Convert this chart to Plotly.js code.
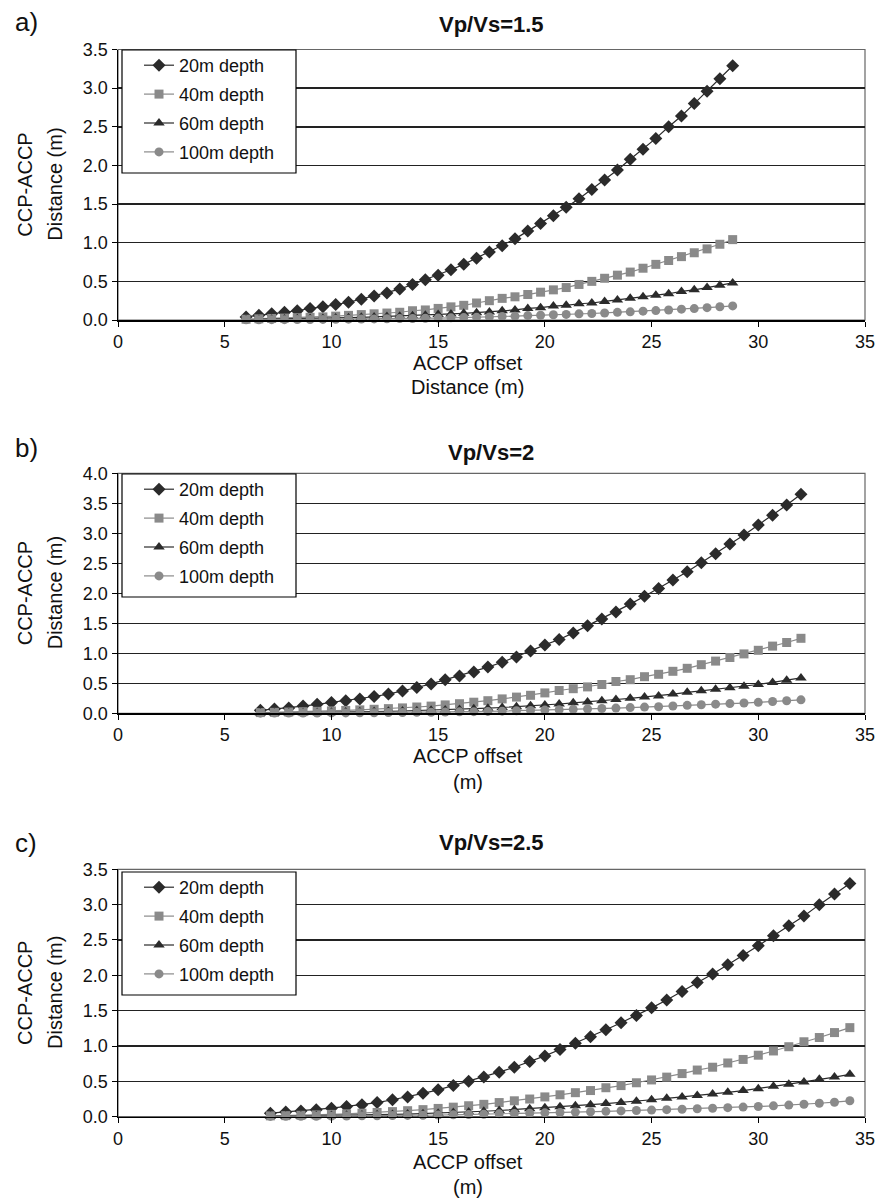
<!DOCTYPE html>
<html>
<head>
<meta charset="utf-8">
<script src="https://cdn.plot.ly/plotly-3.0.1.min.js"></script>
<style>html,body{margin:0;padding:0;background:#fff;}#chart{width:875px;height:1202px;}</style>
</head>
<body>
<div id="chart"></div>
<script>
// ACCP offset (m) for each panel
const xA = [6.0,6.6,7.2,7.8,8.4,9.0,9.6,10.2,10.8,11.4,12.0,12.6,13.2,13.8,14.4,15.0,15.6,16.2,16.8,17.4,18.0,18.6,19.2,19.8,20.4,21.0,21.6,22.2,22.8,23.4,24.0,24.6,25.2,25.8,26.4,27.0,27.6,28.2,28.8];
const xB = [6.67,7.33,8.0,8.67,9.33,10.0,10.67,11.33,12.0,12.67,13.33,14.0,14.67,15.33,16.0,16.67,17.33,18.0,18.67,19.33,20.0,20.67,21.33,22.0,22.67,23.33,24.0,24.67,25.33,26.0,26.67,27.33,28.0,28.67,29.33,30.0,30.67,31.33,32.0];
const xC = [7.14,7.86,8.57,9.29,10.0,10.71,11.43,12.14,12.86,13.57,14.29,15.0,15.71,16.43,17.14,17.86,18.57,19.29,20.0,20.71,21.43,22.14,22.86,23.57,24.29,25.0,25.71,26.43,27.14,27.86,28.57,29.29,30.0,30.71,31.43,32.14,32.86,33.57,34.29];

// Panel a) Vp/Vs=1.5
const a20 = [0.04,0.06,0.08,0.10,0.12,0.15,0.17,0.20,0.23,0.27,0.31,0.35,0.40,0.46,0.52,0.58,0.65,0.72,0.80,0.88,0.96,1.05,1.15,1.25,1.35,1.46,1.57,1.69,1.81,1.94,2.08,2.21,2.35,2.50,2.64,2.80,2.96,3.12,3.29];
const a40 = [0.01,0.015,0.02,0.025,0.03,0.035,0.04,0.05,0.06,0.07,0.08,0.09,0.10,0.12,0.13,0.15,0.17,0.19,0.22,0.25,0.28,0.30,0.33,0.36,0.39,0.42,0.46,0.50,0.54,0.58,0.62,0.67,0.72,0.77,0.82,0.87,0.92,0.98,1.04];
const a60 = [0.005,0.007,0.01,0.012,0.015,0.018,0.021,0.025,0.03,0.035,0.04,0.045,0.05,0.056,0.063,0.07,0.078,0.086,0.095,0.105,0.12,0.13,0.15,0.16,0.18,0.19,0.21,0.22,0.24,0.26,0.28,0.30,0.32,0.34,0.37,0.39,0.42,0.45,0.48];
const a100 = [0.002,0.003,0.004,0.004,0.005,0.006,0.008,0.009,0.011,0.013,0.014,0.016,0.018,0.02,0.023,0.025,0.028,0.031,0.034,0.04,0.046,0.05,0.057,0.061,0.068,0.072,0.08,0.084,0.091,0.099,0.106,0.114,0.122,0.129,0.14,0.148,0.16,0.171,0.182];

// Panel b) Vp/Vs=2
const b20 = [0.05,0.07,0.09,0.12,0.15,0.18,0.21,0.24,0.28,0.32,0.37,0.43,0.49,0.56,0.62,0.69,0.77,0.85,0.94,1.04,1.14,1.23,1.34,1.46,1.57,1.69,1.82,1.95,2.08,2.22,2.36,2.51,2.66,2.82,2.97,3.14,3.30,3.47,3.65];
const b40 = [0.012,0.016,0.021,0.027,0.033,0.04,0.048,0.057,0.067,0.078,0.09,0.105,0.12,0.14,0.16,0.185,0.21,0.24,0.27,0.30,0.34,0.38,0.41,0.44,0.48,0.53,0.56,0.61,0.65,0.70,0.75,0.81,0.87,0.93,0.99,1.05,1.12,1.18,1.25];
const b60 = [0.005,0.007,0.009,0.011,0.014,0.017,0.02,0.024,0.028,0.033,0.038,0.044,0.05,0.057,0.065,0.074,0.085,0.097,0.11,0.125,0.14,0.155,0.175,0.19,0.21,0.23,0.25,0.27,0.29,0.32,0.35,0.375,0.40,0.425,0.45,0.48,0.515,0.55,0.59];
const b100 = [0.002,0.003,0.003,0.004,0.005,0.006,0.007,0.009,0.01,0.012,0.014,0.016,0.018,0.021,0.024,0.027,0.031,0.036,0.042,0.048,0.053,0.059,0.066,0.072,0.08,0.087,0.095,0.103,0.11,0.122,0.133,0.143,0.152,0.162,0.171,0.183,0.196,0.209,0.224];

// Panel c) Vp/Vs=2.5
const c20 = [0.05,0.065,0.08,0.1,0.12,0.145,0.17,0.2,0.24,0.28,0.33,0.38,0.44,0.5,0.56,0.63,0.70,0.78,0.86,0.95,1.04,1.13,1.23,1.33,1.43,1.54,1.65,1.77,1.90,2.02,2.15,2.28,2.42,2.56,2.70,2.84,3.00,3.15,3.30];
const c40 = [0.012,0.015,0.02,0.026,0.033,0.041,0.05,0.06,0.072,0.085,0.1,0.117,0.135,0.155,0.175,0.20,0.225,0.25,0.28,0.31,0.34,0.37,0.41,0.44,0.48,0.52,0.56,0.61,0.66,0.70,0.76,0.81,0.87,0.93,0.99,1.06,1.12,1.19,1.26];
const c60 = [0.006,0.008,0.01,0.013,0.016,0.019,0.023,0.027,0.032,0.037,0.043,0.05,0.058,0.067,0.077,0.088,0.1,0.112,0.125,0.14,0.155,0.17,0.185,0.20,0.22,0.24,0.26,0.28,0.30,0.32,0.345,0.37,0.395,0.43,0.46,0.49,0.53,0.56,0.60];
const c100 = [0.004,0.005,0.006,0.007,0.008,0.01,0.012,0.014,0.016,0.018,0.021,0.024,0.027,0.031,0.035,0.04,0.045,0.05,0.055,0.06,0.065,0.07,0.076,0.082,0.088,0.094,0.1,0.106,0.113,0.12,0.128,0.136,0.145,0.154,0.164,0.176,0.19,0.205,0.225];

const seriesNames = ["20m depth","40m depth","60m depth","100m depth"];
const panelTitles = ["Vp/Vs=1.5","Vp/Vs=2","Vp/Vs=2.5"];
const panelLabels = ["a)","b)","c)"];
const xTitleLine2 = ["Distance (m)","(m)","(m)"];
const yMax = [3.5,4.0,3.5];
const xTicks = [0,5,10,15,20,25,30,35];

const FONT = "Liberation Sans, Arial, Helvetica, sans-serif";
const DARK = "#2b2b2b", GRAY = "#8a8a8a";
const styles = [
  {color: DARK, symbol: "diamond", size: 10},
  {color: GRAY, symbol: "square", size: 9},
  {color: DARK, symbol: "triangle-up", size: 10},
  {color: GRAY, symbol: "circle", size: 9}
];

const panels = [
  {x: xA, ys: [a20,a40,a60,a100]},
  {x: xB, ys: [b20,b40,b60,b100]},
  {x: xC, ys: [c20,c40,c60,c100]}
];

// pixel layout of the plot areas and legend boxes
const W = 875, H = 1202;
const px = {l: 118, r: 865};
const py = [{t: 49.5, b: 320}, {t: 473.3, b: 713.3}, {t: 869.3, b: 1116.7}];
const legBox = [{t: 50, b: 173}, {t: 474, b: 597}, {t: 872, b: 995}];
const xTitleOff = [[43, 67], [43, 69], [45, 70]];

const traces = [];
const layout = {
  width: W, height: H,
  margin: {l: 0, r: 0, t: 0, b: 0},
  paper_bgcolor: "#fff", plot_bgcolor: "#fff",
  font: {family: FONT, color: "#111", size: 17},
  showlegend: true,
  annotations: [], shapes: []
};

panels.forEach((p, i) => {
  const k = i === 0 ? "" : String(i + 1);
  const xa = "x" + k, ya = "y" + k;
  const leg = "legend" + k;
  p.ys.forEach((y, j) => {
    traces.push({
      type: "scatter", mode: "lines+markers",
      x: p.x, y: y, name: seriesNames[j],
      xaxis: xa, yaxis: ya, legend: leg,
      legendgroup: "p" + i + "s" + j,
      cliponaxis: false,
      line: {color: styles[j].color, width: 1.2},
      marker: {color: styles[j].color, symbol: styles[j].symbol, size: styles[j].size}
    });
  });
  const ydom = [1 - py[i].b / H, 1 - py[i].t / H];
  layout["xaxis" + k] = {
    domain: [px.l / W, px.r / W], anchor: ya,
    range: [0, 35], tickmode: "array", tickvals: xTicks,
    ticks: "outside", ticklen: 5, tickcolor: "#000",
    ticklabeloverflow: "allow",
    showgrid: false, zeroline: false,
    showline: true, linecolor: "#000", linewidth: 1.5,
    tickfont: {family: FONT, size: 18, color: "#111"}
  };
  layout["yaxis" + k] = {
    domain: ydom, anchor: xa,
    range: [0, yMax[i]], dtick: 0.5, tick0: 0, tickformat: ".1f",
    ticks: "outside", ticklen: 5, tickcolor: "#000",
    showgrid: true, gridcolor: "#222", gridwidth: 1.5,
    zeroline: false,
    showline: true, linecolor: "#000", linewidth: 1.5,
    tickfont: {family: FONT, size: 18, color: "#111"}
  };
  layout[leg] = {
    x: 122 / W, y: 1 - (legBox[i].t - 3) / H, xanchor: "left", yanchor: "top",
    bgcolor: "rgba(0,0,0,0)", borderwidth: 0,
    font: {family: FONT, size: 18, color: "#111"},
    itemwidth: 30, tracegroupgap: 2.5, indentation: 17
  };
  // legend frame
  layout.shapes.push({
    type: "rect", xref: "paper", yref: "paper",
    x0: 122 / W, x1: 296 / W, y0: 1 - legBox[i].b / H, y1: 1 - legBox[i].t / H,
    fillcolor: "#fff", line: {color: "#000", width: 1.2}, layer: "above"
  });
  // plot frame
  layout.shapes.push({
    type: "rect", xref: xa + " domain", yref: ya + " domain",
    x0: 0, x1: 1, y0: 0, y1: 1,
    line: {color: "#666", width: 1.2}, layer: "below"
  });
  const yc = (py[i].t + py[i].b) / 2;
  const titleY = [25, 452, 842][i];
  const labelY = [22, 448, 843][i];
  // panel label
  layout.annotations.push({
    xref: "paper", yref: "paper", x: 13 / W, y: 1 - labelY / H,
    xanchor: "left", yanchor: "middle", showarrow: false,
    text: panelLabels[i], font: {family: FONT, size: 26, color: "#111"}
  });
  // title
  layout.annotations.push({
    xref: "paper", yref: "paper", x: 491 / W, y: 1 - titleY / H,
    xanchor: "center", yanchor: "middle", showarrow: false,
    text: "<b>" + panelTitles[i] + "</b>", font: {family: FONT, size: 22, color: "#111"}
  });
  // y titles (two lines)
  layout.annotations.push({
    xref: "paper", yref: "paper", x: 25 / W, y: 1 - yc / H,
    xanchor: "center", yanchor: "middle", showarrow: false, textangle: -90,
    text: "CCP-ACCP", font: {family: FONT, size: 20, color: "#111"}
  });
  layout.annotations.push({
    xref: "paper", yref: "paper", x: 55 / W, y: 1 - yc / H,
    xanchor: "center", yanchor: "middle", showarrow: false, textangle: -90,
    text: "Distance (m)", font: {family: FONT, size: 20, color: "#111"}
  });
  // x titles (two lines)
  layout.annotations.push({
    xref: "paper", yref: "paper", x: 468 / W, y: 1 - (py[i].b + xTitleOff[i][0]) / H,
    xanchor: "center", yanchor: "middle", showarrow: false,
    text: "ACCP offset", font: {family: FONT, size: 20, color: "#111"}
  });
  layout.annotations.push({
    xref: "paper", yref: "paper", x: 468 / W, y: 1 - (py[i].b + xTitleOff[i][1]) / H,
    xanchor: "center", yanchor: "middle", showarrow: false,
    text: xTitleLine2[i], font: {family: FONT, size: 20, color: "#111"}
  });
});

Plotly.newPlot("chart", traces, layout, {staticPlot: true, displayModeBar: false});
</script>
</body>
</html>
